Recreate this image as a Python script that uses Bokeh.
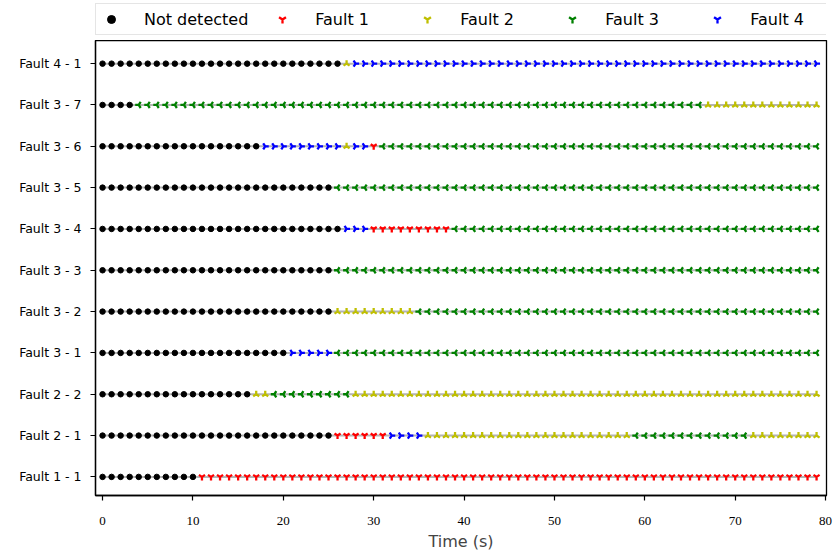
import math
from bokeh.plotting import figure
from bokeh.layouts import column
from bokeh.models import Range1d, Legend, LegendItem, FixedTicker
from bokeh.embed import file_html
from bokeh.resources import INLINE

# ---- data ----
time_s = list(range(80))  # sample instants (s)

row_labels = ["Fault 1 - 1", "Fault 2 - 1", "Fault 2 - 2", "Fault 3 - 1", "Fault 3 - 2",
              "Fault 3 - 3", "Fault 3 - 4", "Fault 3 - 5", "Fault 3 - 6", "Fault 3 - 7",
              "Fault 4 - 1"]

# run-length encoded predicted class per row: (class, number of samples)
# class 0 = not detected, class k = Fault k
runs_f1_1 = [(0, 11), (1, 69)]
runs_f2_1 = [(0, 26), (1, 6), (4, 4), (2, 23), (3, 13), (2, 8)]
runs_f2_2 = [(0, 17), (2, 2), (3, 9), (2, 52)]
runs_f3_1 = [(0, 21), (4, 5), (3, 54)]
runs_f3_2 = [(0, 26), (2, 9), (3, 45)]
runs_f3_3 = [(0, 26), (3, 54)]
runs_f3_4 = [(0, 27), (4, 3), (1, 9), (3, 41)]
runs_f3_5 = [(0, 26), (3, 54)]
runs_f3_6 = [(0, 18), (4, 9), (2, 1), (4, 2), (1, 1), (3, 49)]
runs_f3_7 = [(0, 4), (3, 63), (2, 13)]
runs_f4_1 = [(0, 27), (2, 1), (4, 52)]

class_names = ["Not detected", "Fault 1", "Fault 2", "Fault 3", "Fault 4"]
x_ticks = [0, 10, 20, 30, 40, 50, 60, 70, 80]

# ---- build ----
all_runs = [runs_f1_1, runs_f2_1, runs_f2_2, runs_f3_1, runs_f3_2, runs_f3_3,
            runs_f3_4, runs_f3_5, runs_f3_6, runs_f3_7, runs_f4_1]

class_colors = ["black", "red", "#bfbf00", "green", "blue"]
class_angles = [0.0, 0.0, math.pi, -math.pi / 2, math.pi / 2]


def add_class_glyph(fig, k, x, y):
    if k == 0:
        return fig.scatter(x, y, marker="circle", size=5.5,
                           fill_color=class_colors[k], line_color=class_colors[k])
    return fig.scatter(x, y, marker="y", size=7, angle=class_angles[k],
                       line_color=class_colors[k], line_width=2.3)


xs = {k: [] for k in range(5)}
ys = {k: [] for k in range(5)}
row_seqs = []
for row, runs in enumerate(all_runs):
    seq = []
    for cls, n in runs:
        seq.extend([cls] * n)
    row_seqs.append(seq)
    for t, cls in zip(time_s, seq):
        xs[cls].append(t)
        ys[cls].append(row)

# main plot
p = figure(width=838, height=516, output_backend="svg", toolbar_location=None,
           x_range=Range1d(-0.78, 80.1), y_range=Range1d(-0.45, 10.56),
           min_border_left=95, min_border_right=12, min_border_top=0,
           min_border_bottom=61)
p.grid.visible = False
p.outline_line_color = "black"
p.outline_line_width = 1.3
p.background_fill_color = "white"
p.border_fill_color = "white"

for row in range(len(all_runs)):
    p.line(time_s, [row] * len(time_s), line_color="#b4b4b4", line_width=2)
for k in range(5):
    add_class_glyph(p, k, xs[k], ys[k])

p.xaxis.ticker = FixedTicker(ticks=x_ticks)
p.xaxis.minor_tick_line_color = None
p.xaxis.major_tick_out = 5
p.xaxis.major_tick_in = 0
p.xaxis.major_label_text_font = "Liberation Serif"
p.xaxis.major_label_text_font_size = "13px"
p.xaxis.major_label_standoff = 16
p.xaxis.axis_label = "Time (s)"
p.xaxis.axis_label_text_font = "DejaVu Sans"
p.xaxis.axis_label_text_font_size = "16px"
p.xaxis.axis_label_text_font_style = "normal"
p.xaxis.axis_label_standoff = 4

p.yaxis.ticker = FixedTicker(ticks=list(range(len(row_labels))))
p.yaxis.major_label_overrides = {i: lab for i, lab in enumerate(row_labels)}
p.yaxis.minor_tick_line_color = None
p.yaxis.major_tick_out = 5
p.yaxis.major_tick_in = 0
p.yaxis.major_label_text_font = "DejaVu Sans"
p.yaxis.major_label_text_font_size = "12.5px"
p.yaxis.major_label_standoff = 9

for ax in (p.xaxis, p.yaxis):
    ax.axis_line_color = "black"
    ax.axis_line_width = 1.3
    ax.major_tick_line_color = "black"
    ax.major_tick_line_width = 1.2
    ax.major_label_text_color = "black"

# legend strip above the plot (its glyphs reuse the data, kept outside its view)
lg = figure(width=838, height=40, output_backend="svg", toolbar_location=None,
            x_range=Range1d(-30, -20), y_range=Range1d(-30, -20),
            min_border=0, outline_line_color=None)
lg.axis.visible = False
lg.grid.visible = False
lg.border_fill_color = "white"
lg.background_fill_color = "white"
leg_renderers = [add_class_glyph(lg, k, xs[k], ys[k]) for k in range(5)]

legend = Legend(items=[LegendItem(label=class_names[k], renderers=[leg_renderers[k]])
                       for k in range(5)],
                orientation="horizontal", location=(0, 5),
                glyph_width=20, glyph_height=20, label_height=20, label_width=78,
                label_standoff=23, spacing=24, padding=5, margin=0,
                border_line_color="#cccccc", border_line_width=1.2,
                background_fill_color="white", background_fill_alpha=0.9,
                label_text_font="DejaVu Sans", label_text_font_size="16px",
                label_text_color="black")
lg.add_layout(legend, "center")

layout = column(lg, p, spacing=0)
open("out.html", "w").write(file_html(layout, INLINE))
